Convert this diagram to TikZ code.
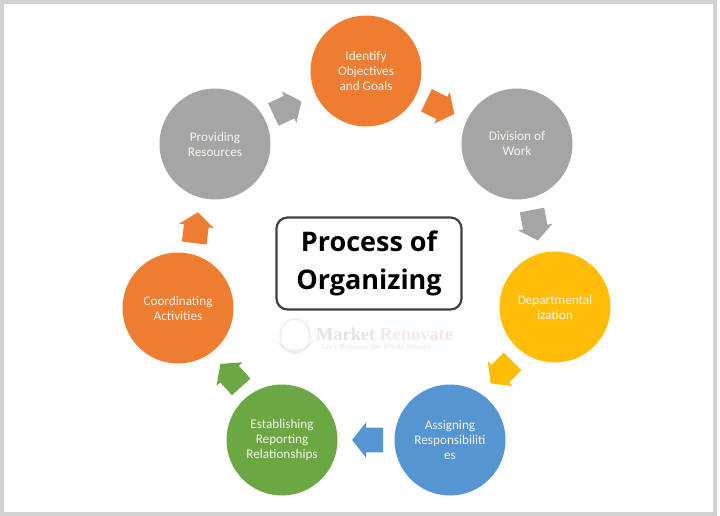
\documentclass[tikz,border=0pt]{standalone}
\usepackage{fontspec}
\setmainfont{Carlito}
\newfontfamily\titlefont{Open Sans}
\newfontfamily\markfont{Liberation Serif}
\usetikzlibrary{shapes.arrows,shapes.geometric}
\definecolor{cOrange}{HTML}{EE7D31}
\definecolor{cGrey}{HTML}{A5A5A5}
\definecolor{cYellow}{HTML}{FFBE05}
\definecolor{cBlue}{HTML}{5595D2}
\definecolor{cGreen}{HTML}{6BA843}
\definecolor{cFrame}{HTML}{D2D2D2}
\definecolor{cEdge}{HTML}{404040}
\definecolor{cLogo}{HTML}{EEEBF7}
\definecolor{cMarkA}{HTML}{E6E3E8}
\definecolor{cMarkB}{HTML}{F6E6F4}
\definecolor{cTag}{HTML}{EDEDED}
\definecolor{cLabel}{HTML}{FBF4EE}
\tikzset{
  stepcircle/.style={circle,minimum size=111pt,inner sep=0pt,align=center,
    text=cLabel,font=\fontsize{13.2}{15}\selectfont},
  blockarrow/.style={single arrow,single arrow head indent=0pt,single arrow tip angle=104,
    single arrow head extend=5pt,minimum height=31pt,minimum width=35pt,
    inner xsep=0pt,inner ysep=12pt,outer sep=0pt},
  titlebox/.style={draw=cEdge,line width=2.2pt,rounded corners=11pt,fill=white,
    minimum width=185pt,minimum height=92pt,align=center,inner sep=0pt,
    font=\titlefont\bfseries\fontsize{27}{38.5}\selectfont,text=black},
}
\begin{document}
\begin{tikzpicture}[x=1pt,y=-1pt]
\useasboundingbox (0,0) rectangle (720,516);
\fill[white] (0,0) rectangle (720,516);
\draw[cFrame,line width=4pt] (2,2) rectangle (715,514);
\node[stepcircle,fill=cOrange] (identify) at (366,71) {Identify\\Objectives\\and Goals};
\node[stepcircle,fill=cGrey] (division) at (517,144) {Division of\\Work};
\node[stepcircle,fill=cYellow] (depart) at (555,307) {Departmental\\ization};
\node[stepcircle,fill=cBlue] (assign) at (450,440) {Assigning\\Responsibiliti\\es};
\node[stepcircle,fill=cGreen] (establish) at (282,440) {Establishing\\Reporting\\Relationships};
\node[stepcircle,fill=cOrange] (coord) at (178,308) {Coordinating\\Activities};
\node[stepcircle,fill=cGrey] (provide) at (215,144) {Providing\\Resources};
\node[blockarrow,fill=cOrange,rotate=-26] (a1) at (436,105) {};
\node[blockarrow,fill=cGrey,rotate=-79] (a2) at (534,220.5) {};
\node[blockarrow,fill=cYellow,rotate=-135] (a3) at (505,369) {};
\node[blockarrow,fill=cBlue,rotate=180] (a4) at (372.5,440) {};
\node[blockarrow,fill=cGreen,rotate=132] (a5) at (234,379) {};
\node[blockarrow,fill=cOrange,rotate=83] (a6) at (195.5,232.5) {};
\node[blockarrow,fill=cGrey,rotate=25] (a7) at (283,110) {};
\node[titlebox] (title) at (369,263.5) {Process of\\Organizing};
\node[draw=cLogo,line width=1.5pt,ellipse,minimum width=30pt,minimum height=34pt,inner sep=0pt] (logo) at (295,336) {};
\fill[cLogo] (276,338) .. controls (280,350) and (288,352) .. (295,354) .. controls (302,352) and (310,350) .. (314,338) .. controls (310,346) and (302,350) .. (295,350) .. controls (288,350) and (280,346) .. (276,338) -- cycle;
\node[anchor=west,inner sep=0pt,font=\markfont\bfseries\fontsize{18.3}{18}\selectfont] (mark) at (316,334) {\textcolor{cMarkA}{Market} \textcolor{cMarkB}{Renovate}};
\node[anchor=west,inner sep=0pt,text=cTag,font=\markfont\bfseries\itshape\fontsize{8}{8}\selectfont] (tag) at (321,347) {Let's Reinvent the Whole Wonder};
\end{tikzpicture}
\end{document}
